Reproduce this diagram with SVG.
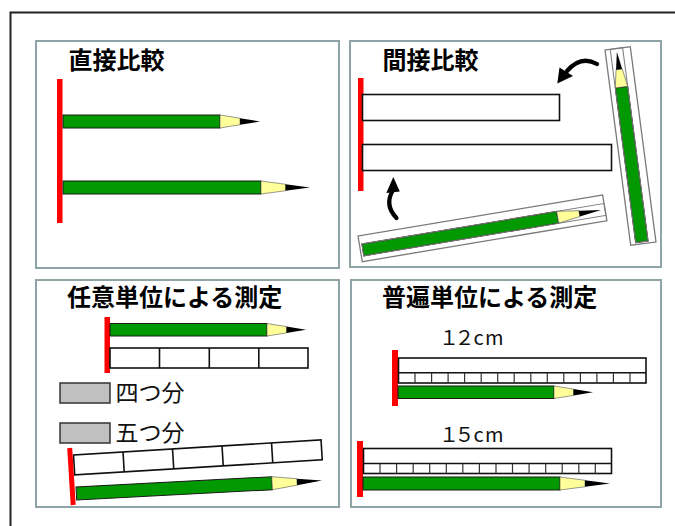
<svg xmlns="http://www.w3.org/2000/svg" width="675" height="526" viewBox="0 0 675 526">
  <style>
    .panel { fill: #ffffff; stroke: #90a4a8; stroke-width: 2; }
    .title { font-family: "Noto Sans CJK JP", "Noto Sans CJK SC", sans-serif; font-weight: bold; font-size: 24px; fill: #000; }
    .label { font-family: "Noto Sans CJK JP", "Noto Sans CJK SC", sans-serif; font-size: 23px; fill: #111; }
    .cm { font-family: "Noto Sans CJK JP", "Liberation Sans", sans-serif; font-size: 20px; fill: #111; }
    .body { fill: #009900; stroke: #1a1a1a; stroke-width: 1; }
    .wood { fill: #ffff99; stroke: #555; stroke-width: 0.6; }
    .lead { fill: #000; }
    .base { fill: #ff0000; }
    .box { fill: #fff; stroke: #111; stroke-width: 1.6; }
    .cell { stroke: #111; stroke-width: 1.6; fill: none; }
    .tick { stroke: #333; stroke-width: 1.2; fill: none; }
    .strip { fill: #fff; stroke: #7a7a7a; stroke-width: 1.3; }
    .outline { fill: none; stroke: #7a7a7a; stroke-width: 1; }
    .unit { fill: #c0c0c0; stroke: #333; stroke-width: 1.5; }
    .curve { fill: none; stroke: #000; stroke-width: 4.2; stroke-linecap: round; }
  </style>

  <rect width="675" height="526" fill="#ffffff"/>
  <!-- outer frame, runs off the right and bottom edges -->
  <path d="M10.5,526 V12.5 H675" fill="none" stroke="#222" stroke-width="2"/>

  <!-- direct comparison -->
  <g id="direct">
    <rect class="panel" x="36" y="41" width="303" height="227"/>
    <text class="title" x="68.5" y="68.5">直接比較</text>
    <rect class="base" x="57" y="79" width="5.5" height="144"/>
    <rect class="body" x="63" y="115" width="157" height="13"/>
    <polygon class="wood" points="220,115 240,118.25 240,124.75 220,128"/>
    <polygon class="lead" points="240,118.25 260,121.5 240,124.75"/>
    <rect class="body" x="63" y="181" width="198" height="13"/>
    <polygon class="wood" points="261,181 285.5,184.25 285.5,190.75 261,194"/>
    <polygon class="lead" points="285.5,184.25 310,187.5 285.5,190.75"/>
  </g>

  <!-- indirect comparison -->
  <g id="indirect">
    <rect class="panel" x="350" y="41" width="311" height="226"/>
    <text class="title" x="382.5" y="68.5">間接比較</text>
    <rect class="base" x="358" y="78" width="5.5" height="113"/>
    <rect class="box" x="362.5" y="94.5" width="197" height="26"/>
    <rect class="box" x="362.5" y="144.5" width="249" height="26"/>
    <!-- pencil laid on a paper strip, lower -->
    <g transform="rotate(-9.5 358 236)">
      <rect class="strip" x="358" y="236" width="248" height="26"/>
      <rect class="body" x="360.5" y="244.5" width="197.5" height="12" stroke="none"/>
      <polygon class="wood" points="558,244.5 580,247.5 580,253.5 558,256.5" stroke="none"/>
      <polygon class="lead" points="580,247.5 602,250.5 580,253.5"/>
      <rect class="outline" x="360.5" y="244.5" width="245.5" height="12"/>
    </g>
    <!-- pencil laid on a paper strip, upright -->
    <g transform="rotate(-7.5 605 50)">
      <rect class="strip" x="605" y="50" width="25.5" height="197"/>
      <rect class="body" x="610.25" y="89" width="12.5" height="156" stroke="none"/>
      <polygon class="wood" points="610.25,89 613.4,71 619.6,71 622.75,89" stroke="none"/>
      <polygon class="lead" points="613.4,71 616.5,53.5 619.6,71"/>
      <rect class="outline" x="610.25" y="50" width="12.5" height="195"/>
    </g>
  </g>

  <!-- arbitrary units -->
  <g id="arbitrary">
    <rect class="panel" x="36" y="280" width="303" height="227"/>
    <text class="title" x="67" y="306">任意単位による測定</text>
    <rect class="base" x="104.5" y="317" width="5.5" height="56"/>
    <rect class="body" x="110" y="323.5" width="157" height="12.5"/>
    <polygon class="wood" points="267,323.5 286.5,326.6 286.5,332.9 267,336"/>
    <polygon class="lead" points="286.5,326.6 306,329.75 286.5,332.9"/>
    <rect class="box" x="110" y="348" width="198" height="20"/>
    <path class="cell" d="M159.5,348 V368 M209.3,348 V368 M258.8,348 V368"/>
    <rect class="unit" x="60" y="383" width="50" height="20"/>
    <text class="label" x="115.5" y="400.5">四つ分</text>
    <rect class="unit" x="60" y="423" width="50" height="20"/>
    <text class="label" x="115.5" y="440.5">五つ分</text>
    <g transform="rotate(-3.5 73.5 455)">
      <rect class="box" x="73.5" y="455" width="248" height="20"/>
      <path class="cell" d="M123.1,455 V475 M172.7,455 V475 M222.3,455 V475 M271.9,455 V475"/>
    </g>
    <line x1="69.7" y1="448" x2="73.2" y2="505" stroke="#ff0000" stroke-width="5"/>
    <g transform="rotate(-3 76 487)">
      <rect class="body" x="76" y="487" width="196" height="13"/>
      <polygon class="wood" points="272,487 297,490.25 297,496.75 272,500"/>
      <polygon class="lead" points="297,490.25 322,493.5 297,496.75"/>
    </g>
  </g>

  <!-- standard units -->
  <g id="standard">
    <rect class="panel" x="351" y="280" width="310" height="227"/>
    <text class="title" x="382" y="306">普遍単位による測定</text>
    <text class="cm" x="439 454.5 473.5 485" y="345">１２cm</text>
    <rect class="base" x="392" y="350" width="6" height="56"/>
    <rect class="box" x="398.5" y="358" width="247.5" height="25"/>
    <path class="cell" d="M398.5,372.8 H646"/>
    <path class="tick" d="M415,372.8 V383 M431.6,372.8 V383 M448.1,372.8 V383 M464.6,372.8 V383 M481.2,372.8 V383 M497.7,372.8 V383 M514.2,372.8 V383 M530.8,372.8 V383 M547.3,372.8 V383 M563.8,372.8 V383 M580.4,372.8 V383 M596.9,372.8 V383 M613.4,372.8 V383 M630,372.8 V383"/>
    <rect class="body" x="398" y="386" width="156" height="12.5"/>
    <polygon class="wood" points="554,386 573.5,389.1 573.5,395.4 554,398.5"/>
    <polygon class="lead" points="573.5,389.1 593,392.25 573.5,395.4"/>

    <text class="cm" x="439 454.5 473.5 485" y="442">１５cm</text>
    <rect class="base" x="357" y="441" width="6" height="56"/>
    <rect class="box" x="363.5" y="448.5" width="248" height="25"/>
    <path class="cell" d="M363.5,463.5 H611.5"/>
    <path class="tick" d="M380,463.5 V473.5 M396.6,463.5 V473.5 M413.2,463.5 V473.5 M429.7,463.5 V473.5 M446.3,463.5 V473.5 M462.8,463.5 V473.5 M479.4,463.5 V473.5 M496,463.5 V473.5 M512.5,463.5 V473.5 M529.1,463.5 V473.5 M545.7,463.5 V473.5 M562.2,463.5 V473.5 M578.8,463.5 V473.5 M595.3,463.5 V473.5"/>
    <rect class="body" x="363" y="477" width="197" height="13"/>
    <polygon class="wood" points="560,477 585,480.25 585,486.75 560,490"/>
    <polygon class="lead" points="585,480.25 610,483.5 585,486.75"/>
  </g>

  <!-- curved arrows showing the strips being moved -->
  <g id="connectors">
    <path class="curve" d="M597,64 Q581,55 567,71"/>
    <polygon points="557.3,83.5 559.5,67.5 573,76" fill="#000"/>
    <path class="curve" d="M396.5,218 Q384,205 393,190"/>
    <polygon points="393.3,177 386.3,193 399.8,191.5" fill="#000"/>
  </g>
</svg>
